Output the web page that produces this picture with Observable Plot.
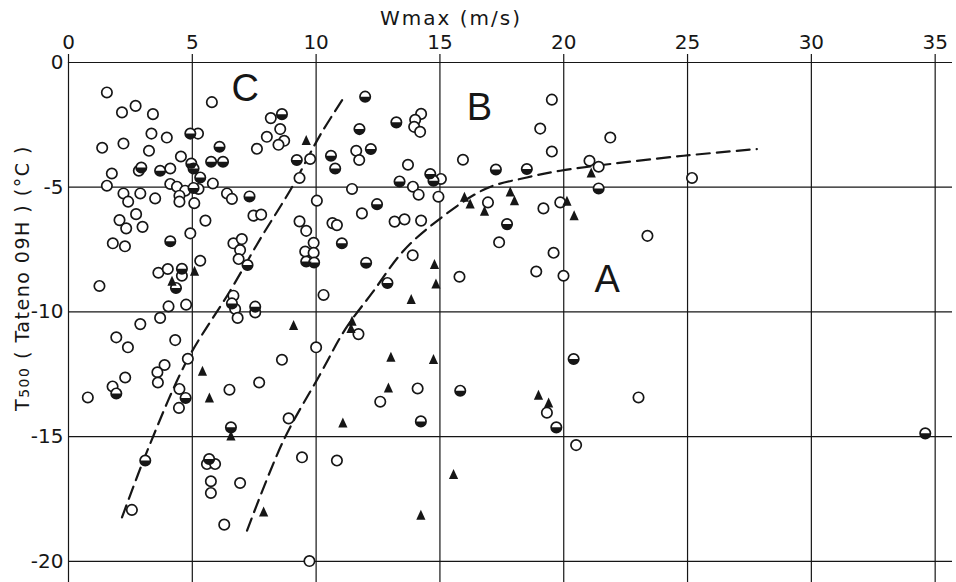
<!DOCTYPE html>
<html><head><meta charset="utf-8">
<script src="https://cdn.jsdelivr.net/npm/d3@7"></script>
<script src="https://cdn.jsdelivr.net/npm/@observablehq/plot@0.6"></script>
<style>body{margin:0;background:#fff} #chart svg{display:block}</style>
</head><body><div id="chart"></div>
<script>
const xTicks = [0,5,10,15,20,25,30,35];
const yTicks = [0,-5,-10,-15,-20];

// open circles
const openW = [1.55,2.16,2.71,3.41,5.79,1.36,2.22,3.35,3.25,3.97,1.75,2.84,4.11,4.54,5.23,5.83,8.17,8.55,8.01,8.71,8.48,7.61,9.76,9.33,1.55,4.11,4.38,5.25,4.71,2.22,2.90,2.41,3.50,4.48,4.48,5.08,6.40,6.60,7.47,7.78,9.33,9.60,10.03,2.73,2.06,2.33,2.99,5.53,4.92,1.79,2.28,6.66,7.00,6.93,6.87,9.90,9.56,9.90,5.32,3.63,4.01,4.58,1.25,6.66,6.73,6.83,7.54,4.04,4.75,3.70,2.90,1.93,2.40,4.31,10.00,4.82,3.88,3.59,3.61,2.29,8.62,1.78,0.78,4.48,4.46,6.50,7.70,8.89,2.56,5.59,5.92,5.75,5.75,6.93,9.43,6.29,9.73,14.24,14.00,13.96,14.20,11.62,11.74,13.71,15.04,13.91,14.14,11.45,14.94,11.85,10.66,10.84,13.17,13.57,14.24,13.90,19.52,19.05,19.52,15.93,21.04,21.41,21.88,16.94,19.18,19.86,17.39,19.59,15.79,10.30,18.89,19.99,11.71,14.10,12.59,19.32,20.50,10.84,25.18,23.38,23.02];
const openT = [-1.20,-2.00,-1.74,-2.07,-1.59,-3.42,-3.25,-2.85,-3.54,-3.01,-4.45,-4.34,-4.25,-3.77,-2.85,-4.85,-2.23,-2.67,-2.98,-3.14,-3.30,-3.46,-3.87,-4.63,-4.94,-4.87,-4.98,-5.07,-5.14,-5.25,-5.25,-5.58,-5.45,-5.34,-5.58,-5.64,-5.25,-5.47,-6.14,-6.10,-6.37,-6.75,-5.54,-6.08,-6.32,-6.65,-6.59,-6.34,-6.85,-7.25,-7.37,-7.25,-7.08,-7.52,-7.88,-7.23,-7.58,-7.63,-7.95,-8.43,-8.28,-8.55,-8.96,-9.35,-9.88,-10.24,-10.02,-9.78,-9.71,-10.24,-10.49,-11.02,-11.42,-11.13,-11.42,-11.88,-12.13,-12.42,-12.83,-12.63,-11.92,-12.99,-13.43,-13.09,-13.85,-13.12,-12.83,-14.27,-17.94,-16.10,-16.10,-16.79,-17.26,-16.86,-15.83,-18.53,-19.99,-2.06,-2.30,-2.58,-2.78,-3.54,-3.91,-4.10,-4.67,-4.98,-5.30,-5.07,-5.38,-6.05,-6.44,-6.52,-6.38,-6.29,-6.34,-7.73,-1.49,-2.65,-3.57,-3.90,-3.94,-4.18,-3.01,-5.61,-5.85,-5.61,-7.21,-7.63,-8.59,-9.32,-8.38,-8.55,-10.89,-13.07,-13.60,-14.04,-15.34,-15.96,-4.63,-6.95,-13.43];

// half-filled circles
const halfW = [2.94,3.70,4.92,6.10,5.76,6.24,4.96,5.05,5.32,8.62,9.22,5.05,7.31,4.11,7.23,9.60,9.92,4.58,4.34,6.60,7.54,1.93,4.73,6.56,3.10,5.68,11.98,13.24,11.75,10.60,10.77,12.21,13.37,14.61,14.74,12.46,11.04,12.02,17.26,18.51,21.41,17.71,12.88,20.40,15.82,19.70,14.23,34.60];
const halfT = [-4.21,-4.34,-2.85,-3.38,-3.98,-3.98,-4.05,-4.25,-4.61,-2.07,-3.91,-5.03,-5.37,-7.17,-8.12,-7.98,-8.02,-8.27,-9.04,-9.66,-9.79,-13.27,-13.45,-14.63,-15.96,-15.90,-1.37,-2.40,-2.67,-3.74,-4.25,-3.47,-4.77,-4.47,-4.74,-5.68,-7.25,-8.03,-4.29,-4.27,-5.05,-6.48,-8.84,-11.89,-13.16,-14.63,-14.39,-14.87];

// filled triangles
const triW = [9.60,5.09,4.18,9.09,5.41,5.69,6.56,7.88,21.11,15.99,16.22,16.80,17.84,18.01,20.13,20.42,14.78,14.84,13.84,11.45,11.41,13.02,14.74,12.92,18.98,19.39,11.08,15.55,14.23];
const triT = [-3.11,-8.35,-8.75,-10.53,-12.36,-13.43,-14.96,-18.00,-4.41,-5.38,-5.65,-5.94,-5.17,-5.52,-5.54,-6.12,-8.08,-8.86,-9.48,-10.35,-10.65,-11.80,-11.89,-13.03,-13.32,-13.63,-14.43,-16.50,-18.13];

// dashed boundary curves
const curveCW = [2.16,3.21,4.78,6.53,7.74,9.02,10.17,11.17];
const curveCT = [-18.24,-15.50,-11.96,-9.15,-7.08,-5.01,-2.90,-1.33];
const curveABW = [7.21,8.68,10.17,11.18,12.27,13.53,14.81,16.83,18.51,19.86,21.47,24.84,27.80];
const curveABT = [-18.77,-15.16,-12.49,-10.69,-9.23,-7.55,-6.41,-5.07,-4.61,-4.34,-4.12,-3.74,-3.47];

// region labels
const regionNames = ["C","B","A"];
const regionW = [7.14,16.59,21.75];
const regionT = [-1.05,-1.80,-8.71];

const idx = a => d3.range(a.length);

const halfSym = {draw(ctx, size){ const r = Math.sqrt(size/Math.PI); ctx.moveTo(r,0); ctx.arc(0,0,r,0,Math.PI); ctx.closePath(); }};
const triSym = {draw(ctx, size){ const r = Math.sqrt(size/Math.PI); ctx.moveTo(0,-r); ctx.lineTo(0.92*r,r); ctx.lineTo(-0.92*r,r); ctx.closePath(); }};

const ink = "#161616";
const chart = Plot.plot({
  width: 956, height: 582,
  marginLeft: 68, marginRight: 4, marginTop: 62, marginBottom: 0,
  style: {fontFamily: "DejaVu Sans", color: ink, background: "white", overflow: "visible"},
  x: {domain: [0, 35.7]},
  y: {domain: [-20.85, 0]},
  marks: [
    Plot.gridX({ticks: xTicks, stroke: ink, strokeOpacity: 1, strokeWidth: 1.2}),
    Plot.gridY({ticks: yTicks, stroke: ink, strokeOpacity: 1, strokeWidth: 1.2}),
    Plot.axisX({anchor: "top", ticks: xTicks, tickSize: 9, tickPadding: 5, fontSize: 20, label: null, tickFormat: d => String(d), strokeWidth: 1.2}),
    Plot.axisY({ticks: yTicks, tickSize: 0, tickPadding: 5, fontSize: 20, label: null, tickFormat: d => String(d)}),
    Plot.line(idx(curveCW), {x: curveCW, y: curveCT, curve: "catmull-rom", stroke: ink, strokeWidth: 2.2, strokeDasharray: "13,7"}),
    Plot.line(idx(curveABW), {x: curveABW, y: curveABT, curve: "catmull-rom", stroke: ink, strokeWidth: 2.2, strokeDasharray: "13,7"}),
    Plot.dot(idx(openW), {x: openW, y: openT, r: 5.2, fill: "white", stroke: ink, strokeWidth: 1.7}),
    Plot.dot(idx(halfW), {x: halfW, y: halfT, r: 5.2, fill: "white", stroke: ink, strokeWidth: 1.7}),
    Plot.dot(idx(halfW), {x: halfW, y: halfT, r: 5.2, symbol: halfSym, fill: ink, stroke: "none"}),
    Plot.dot(idx(triW), {x: triW, y: triT, r: 5, symbol: triSym, fill: ink, stroke: "none"}),
    Plot.text(regionNames, {x: regionW, y: regionT, text: d => d, fontSize: 38, fontFamily: "Liberation Sans", fill: ink, lineAnchor: "middle"})
  ]
});
document.getElementById("chart").appendChild(chart);

const svg = d3.select(chart);
svg.append("text")
  .attr("x", 451).attr("y", 25).attr("text-anchor", "middle")
  .attr("fill", ink)
  .style("font-family", "DejaVu Sans").style("font-size", "20px").style("letter-spacing", "2px")
  .text("Wmax (m/s)");
const yl = svg.append("text")
  .attr("transform", "translate(29,278) rotate(-90)")
  .attr("text-anchor", "middle").attr("fill", ink)
  .style("font-family", "DejaVu Sans").style("font-size", "19px").style("letter-spacing", "1.5px");
yl.append("tspan").text("T");
yl.append("tspan").style("font-size", "14px").text("500");
yl.append("tspan").text(" ( Tateno 09H ) (°C )");
</script>
</body></html>
